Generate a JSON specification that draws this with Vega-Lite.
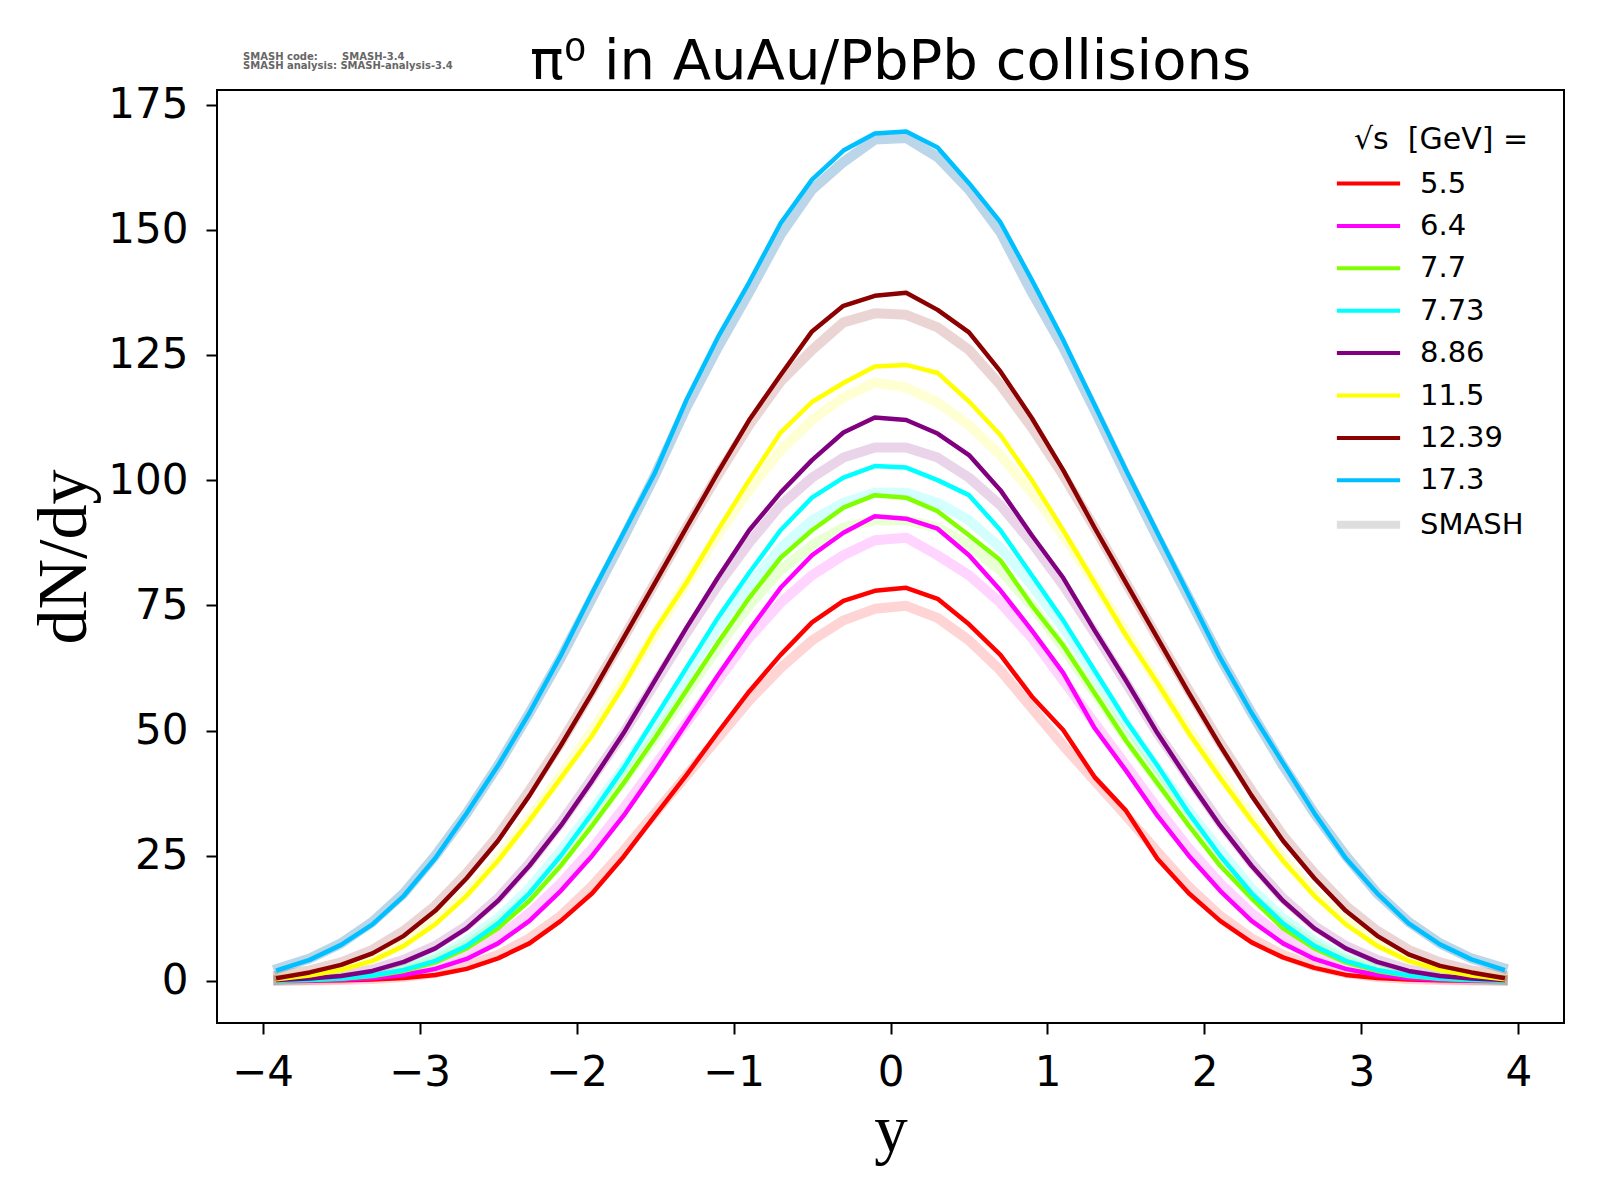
{
  "$schema": "https://vega.github.io/schema/vega-lite/v6.json",
  "width": 1347,
  "height": 933,
  "autosize": {"type": "none"},
  "padding": {"left": 217, "top": 90, "right": 36, "bottom": 177},
  "background": "white",
  "title": {
    "text": "π⁰ in AuAu/PbPb collisions",
    "font": "DejaVu Sans",
    "fontSize": 56,
    "fontWeight": "normal",
    "color": "black",
    "anchor": "middle",
    "frame": "group",
    "offset": -39
  },
  "data": {
    "values": [
      {"e":"5.5","r":-3.9,"d":0.03,"m":0.04},{"e":"5.5","r":-3.7,"d":0.07,"m":0.08},{"e":"5.5","r":-3.5,"d":0.15,"m":0.18},{"e":"5.5","r":-3.3,"d":0.3,"m":0.4},{"e":"5.5","r":-3.1,"d":0.6,"m":0.8},
      {"e":"5.5","r":-2.9,"d":1.2,"m":1.6},{"e":"5.5","r":-2.7,"d":2.4,"m":3},{"e":"5.5","r":-2.5,"d":4.5,"m":5.2},{"e":"5.5","r":-2.3,"d":7.5,"m":8.5},{"e":"5.5","r":-2.1,"d":12,"m":13},
      {"e":"5.5","r":-1.9,"d":17.5,"m":19},{"e":"5.5","r":-1.7,"d":24.8,"m":26},{"e":"5.5","r":-1.5,"d":33,"m":33.5},{"e":"5.5","r":-1.3,"d":41.1,"m":41},{"e":"5.5","r":-1.1,"d":49.6,"m":48.5},
      {"e":"5.5","r":-0.9,"d":57.8,"m":56},{"e":"5.5","r":-0.7,"d":65.1,"m":62.5},{"e":"5.5","r":-0.5,"d":71.6,"m":68},{"e":"5.5","r":-0.3,"d":75.9,"m":72},{"e":"5.5","r":-0.1,"d":77.9,"m":74.3},
      {"e":"5.5","r":0.1,"d":78.5,"m":74.9},{"e":"5.5","r":0.3,"d":76.3,"m":72.5},{"e":"5.5","r":0.5,"d":71.2,"m":68},{"e":"5.5","r":0.7,"d":65.1,"m":62},{"e":"5.5","r":0.9,"d":56.8,"m":54.5},
      {"e":"5.5","r":1.1,"d":50.1,"m":47},{"e":"5.5","r":1.3,"d":40.7,"m":40},{"e":"5.5","r":1.5,"d":34,"m":33},{"e":"5.5","r":1.7,"d":24.4,"m":25.8},{"e":"5.5","r":1.9,"d":17.5,"m":18.8},
      {"e":"5.5","r":2.1,"d":12,"m":13},{"e":"5.5","r":2.3,"d":7.7,"m":8.5},{"e":"5.5","r":2.5,"d":4.7,"m":5.2},{"e":"5.5","r":2.7,"d":2.6,"m":3},{"e":"5.5","r":2.9,"d":1.2,"m":1.6},
      {"e":"5.5","r":3.1,"d":0.6,"m":0.8},{"e":"5.5","r":3.3,"d":0.3,"m":0.4},{"e":"5.5","r":3.5,"d":0.15,"m":0.18},{"e":"5.5","r":3.7,"d":0.07,"m":0.08},{"e":"5.5","r":3.9,"d":0.03,"m":0.04},

      {"e":"6.4","r":-3.9,"d":0.05,"m":0.08},{"e":"6.4","r":-3.7,"d":0.1,"m":0.18},{"e":"6.4","r":-3.5,"d":0.25,"m":0.4},{"e":"6.4","r":-3.3,"d":0.55,"m":0.8},{"e":"6.4","r":-3.1,"d":1.2,"m":1.6},
      {"e":"6.4","r":-2.9,"d":2.4,"m":3},{"e":"6.4","r":-2.7,"d":4.4,"m":5.3},{"e":"6.4","r":-2.5,"d":7.5,"m":8.8},{"e":"6.4","r":-2.3,"d":12,"m":13.5},{"e":"6.4","r":-2.1,"d":18,"m":19.5},
      {"e":"6.4","r":-1.9,"d":25,"m":26.5},{"e":"6.4","r":-1.7,"d":33,"m":34.5},{"e":"6.4","r":-1.5,"d":42,"m":43},{"e":"6.4","r":-1.3,"d":51.5,"m":51.5},{"e":"6.4","r":-1.1,"d":61,"m":60},
      {"e":"6.4","r":-0.9,"d":70,"m":68.5},{"e":"6.4","r":-0.7,"d":78.5,"m":75.5},{"e":"6.4","r":-0.5,"d":85,"m":81},{"e":"6.4","r":-0.3,"d":89.5,"m":85},{"e":"6.4","r":-0.1,"d":92.8,"m":88},
      {"e":"6.4","r":0.1,"d":92.3,"m":88.5},{"e":"6.4","r":0.3,"d":90.3,"m":85},{"e":"6.4","r":0.5,"d":85,"m":81},{"e":"6.4","r":0.7,"d":78,"m":75.5},{"e":"6.4","r":0.9,"d":70,"m":68.5},
      {"e":"6.4","r":1.1,"d":61.5,"m":60},{"e":"6.4","r":1.3,"d":50.5,"m":51.5},{"e":"6.4","r":1.5,"d":42,"m":43},{"e":"6.4","r":1.7,"d":33,"m":34.5},{"e":"6.4","r":1.9,"d":25,"m":26.5},
      {"e":"6.4","r":2.1,"d":18,"m":19.5},{"e":"6.4","r":2.3,"d":12,"m":13.5},{"e":"6.4","r":2.5,"d":7.5,"m":8.8},{"e":"6.4","r":2.7,"d":4.4,"m":5.3},{"e":"6.4","r":2.9,"d":2.4,"m":3},
      {"e":"6.4","r":3.1,"d":1.2,"m":1.6},{"e":"6.4","r":3.3,"d":0.55,"m":0.8},{"e":"6.4","r":3.5,"d":0.25,"m":0.4},{"e":"6.4","r":3.7,"d":0.1,"m":0.18},{"e":"6.4","r":3.9,"d":0.05,"m":0.08},

      {"e":"7.7","r":-3.9,"d":0.08,"m":0.1},{"e":"7.7","r":-3.7,"d":0.2,"m":0.25},{"e":"7.7","r":-3.5,"d":0.45,"m":0.55},{"e":"7.7","r":-3.3,"d":1,"m":1.2},{"e":"7.7","r":-3.1,"d":2,"m":2.3},
      {"e":"7.7","r":-2.9,"d":3.7,"m":4.2},{"e":"7.7","r":-2.7,"d":6.5,"m":7.2},{"e":"7.7","r":-2.5,"d":10.5,"m":11.5},{"e":"7.7","r":-2.3,"d":16,"m":17},{"e":"7.7","r":-2.1,"d":23,"m":24},
      {"e":"7.7","r":-1.9,"d":31,"m":32},{"e":"7.7","r":-1.7,"d":39.5,"m":40},{"e":"7.7","r":-1.5,"d":48.5,"m":48.5},{"e":"7.7","r":-1.3,"d":58,"m":57.5},{"e":"7.7","r":-1.1,"d":67.5,"m":66.5},
      {"e":"7.7","r":-0.9,"d":76.5,"m":75},{"e":"7.7","r":-0.7,"d":84.5,"m":82},{"e":"7.7","r":-0.5,"d":90,"m":87},{"e":"7.7","r":-0.3,"d":94.5,"m":90.5},{"e":"7.7","r":-0.1,"d":97,"m":92},
      {"e":"7.7","r":0.1,"d":96.5,"m":92},{"e":"7.7","r":0.3,"d":93.8,"m":90.5},{"e":"7.7","r":0.5,"d":89,"m":87},{"e":"7.7","r":0.7,"d":84,"m":82},{"e":"7.7","r":0.9,"d":75,"m":75},
      {"e":"7.7","r":1.1,"d":67,"m":66.5},{"e":"7.7","r":1.3,"d":57.5,"m":57.5},{"e":"7.7","r":1.5,"d":48,"m":48.5},{"e":"7.7","r":1.7,"d":39.5,"m":40},{"e":"7.7","r":1.9,"d":31,"m":32},
      {"e":"7.7","r":2.1,"d":23,"m":24},{"e":"7.7","r":2.3,"d":16.5,"m":17},{"e":"7.7","r":2.5,"d":10.5,"m":11.5},{"e":"7.7","r":2.7,"d":6.5,"m":7.2},{"e":"7.7","r":2.9,"d":3.7,"m":4.2},
      {"e":"7.7","r":3.1,"d":2,"m":2.3},{"e":"7.7","r":3.3,"d":1,"m":1.2},{"e":"7.7","r":3.5,"d":0.45,"m":0.55},{"e":"7.7","r":3.7,"d":0.2,"m":0.25},{"e":"7.7","r":3.9,"d":0.08,"m":0.1},

      {"e":"7.73","r":-3.9,"d":0.09,"m":0.12},{"e":"7.73","r":-3.7,"d":0.22,"m":0.3},{"e":"7.73","r":-3.5,"d":0.5,"m":0.65},{"e":"7.73","r":-3.3,"d":1.1,"m":1.35},{"e":"7.73","r":-3.1,"d":2.2,"m":2.6},
      {"e":"7.73","r":-2.9,"d":4,"m":4.7},{"e":"7.73","r":-2.7,"d":7,"m":8},{"e":"7.73","r":-2.5,"d":11.5,"m":12.5},{"e":"7.73","r":-2.3,"d":17.5,"m":18.5},{"e":"7.73","r":-2.1,"d":25,"m":26},
      {"e":"7.73","r":-1.9,"d":33.5,"m":34},{"e":"7.73","r":-1.7,"d":42.5,"m":42.5},{"e":"7.73","r":-1.5,"d":52.5,"m":51.5},{"e":"7.73","r":-1.3,"d":62.5,"m":61},{"e":"7.73","r":-1.1,"d":72.5,"m":70.5},
      {"e":"7.73","r":-0.9,"d":81.5,"m":79},{"e":"7.73","r":-0.7,"d":90,"m":86.5},{"e":"7.73","r":-0.5,"d":96.5,"m":92},{"e":"7.73","r":-0.3,"d":100.5,"m":95.5},{"e":"7.73","r":-0.1,"d":102.8,"m":97.5},
      {"e":"7.73","r":0.1,"d":102.5,"m":97.5},{"e":"7.73","r":0.3,"d":100,"m":95.5},{"e":"7.73","r":0.5,"d":97,"m":92},{"e":"7.73","r":0.7,"d":90,"m":86.5},{"e":"7.73","r":0.9,"d":81,"m":79},
      {"e":"7.73","r":1.1,"d":72,"m":70.5},{"e":"7.73","r":1.3,"d":62,"m":61},{"e":"7.73","r":1.5,"d":52,"m":51.5},{"e":"7.73","r":1.7,"d":43,"m":42.5},{"e":"7.73","r":1.9,"d":33.5,"m":34},
      {"e":"7.73","r":2.1,"d":25,"m":26},{"e":"7.73","r":2.3,"d":17.5,"m":18.5},{"e":"7.73","r":2.5,"d":11.5,"m":12.5},{"e":"7.73","r":2.7,"d":7,"m":8},{"e":"7.73","r":2.9,"d":4,"m":4.7},
      {"e":"7.73","r":3.1,"d":2.2,"m":2.6},{"e":"7.73","r":3.3,"d":1.1,"m":1.35},{"e":"7.73","r":3.5,"d":0.5,"m":0.65},{"e":"7.73","r":3.7,"d":0.22,"m":0.3},{"e":"7.73","r":3.9,"d":0.09,"m":0.12},

      {"e":"8.86","r":-3.9,"d":0.2,"m":0.25},{"e":"8.86","r":-3.7,"d":0.5,"m":0.6},{"e":"8.86","r":-3.5,"d":1,"m":1.2},{"e":"8.86","r":-3.3,"d":2,"m":2.3},{"e":"8.86","r":-3.1,"d":3.8,"m":4.2},
      {"e":"8.86","r":-2.9,"d":6.5,"m":7},{"e":"8.86","r":-2.7,"d":10.5,"m":11},{"e":"8.86","r":-2.5,"d":16,"m":16.5},{"e":"8.86","r":-2.3,"d":23,"m":23.5},{"e":"8.86","r":-2.1,"d":31,"m":31.5},
      {"e":"8.86","r":-1.9,"d":40,"m":40.5},{"e":"8.86","r":-1.7,"d":49.5,"m":49.5},{"e":"8.86","r":-1.5,"d":60,"m":59.5},{"e":"8.86","r":-1.3,"d":70.5,"m":69.5},{"e":"8.86","r":-1.1,"d":80.5,"m":79},
      {"e":"8.86","r":-0.9,"d":90,"m":87.5},{"e":"8.86","r":-0.7,"d":97.5,"m":95},{"e":"8.86","r":-0.5,"d":104,"m":100.5},{"e":"8.86","r":-0.3,"d":109.5,"m":104.5},{"e":"8.86","r":-0.1,"d":112.5,"m":106.5},
      {"e":"8.86","r":0.1,"d":112,"m":106.5},{"e":"8.86","r":0.3,"d":109.3,"m":104.5},{"e":"8.86","r":0.5,"d":105,"m":100.5},{"e":"8.86","r":0.7,"d":98,"m":95},{"e":"8.86","r":0.9,"d":89,"m":87.5},
      {"e":"8.86","r":1.1,"d":80.5,"m":79},{"e":"8.86","r":1.3,"d":70,"m":69.5},{"e":"8.86","r":1.5,"d":60,"m":59.5},{"e":"8.86","r":1.7,"d":49.5,"m":49.5},{"e":"8.86","r":1.9,"d":40,"m":40.5},
      {"e":"8.86","r":2.1,"d":31,"m":31.5},{"e":"8.86","r":2.3,"d":23,"m":23.5},{"e":"8.86","r":2.5,"d":16,"m":16.5},{"e":"8.86","r":2.7,"d":10.5,"m":11},{"e":"8.86","r":2.9,"d":6.5,"m":7},
      {"e":"8.86","r":3.1,"d":3.8,"m":4.2},{"e":"8.86","r":3.3,"d":2,"m":2.3},{"e":"8.86","r":3.5,"d":1,"m":1.2},{"e":"8.86","r":3.7,"d":0.5,"m":0.6},{"e":"8.86","r":3.9,"d":0.2,"m":0.25},

      {"e":"11.5","r":-3.9,"d":0.4,"m":0.6},{"e":"11.5","r":-3.7,"d":1.1,"m":1.3},{"e":"11.5","r":-3.5,"d":2.2,"m":2.5},{"e":"11.5","r":-3.3,"d":4,"m":4.5},{"e":"11.5","r":-3.1,"d":7,"m":7.5},
      {"e":"11.5","r":-2.9,"d":11.3,"m":12},{"e":"11.5","r":-2.7,"d":17,"m":17.5},{"e":"11.5","r":-2.5,"d":24,"m":24.5},{"e":"11.5","r":-2.3,"d":32,"m":32.5},{"e":"11.5","r":-2.1,"d":40.5,"m":41},
      {"e":"11.5","r":-1.9,"d":49,"m":50},{"e":"11.5","r":-1.7,"d":59,"m":59.5},{"e":"11.5","r":-1.5,"d":70,"m":69.5},{"e":"11.5","r":-1.3,"d":79.5,"m":79.5},{"e":"11.5","r":-1.1,"d":90,"m":89},
      {"e":"11.5","r":-0.9,"d":100,"m":98},{"e":"11.5","r":-0.7,"d":109.5,"m":106},{"e":"11.5","r":-0.5,"d":115.6,"m":112},{"e":"11.5","r":-0.3,"d":119.4,"m":116.5},{"e":"11.5","r":-0.1,"d":122.7,"m":119.5},
      {"e":"11.5","r":0.1,"d":123,"m":118.5},{"e":"11.5","r":0.3,"d":121.4,"m":115.5},{"e":"11.5","r":0.5,"d":115.7,"m":111},{"e":"11.5","r":0.7,"d":109,"m":105},{"e":"11.5","r":0.9,"d":100,"m":97.5},
      {"e":"11.5","r":1.1,"d":90,"m":89},{"e":"11.5","r":1.3,"d":79.5,"m":79.5},{"e":"11.5","r":1.5,"d":69,"m":69.5},{"e":"11.5","r":1.7,"d":59.5,"m":59.5},{"e":"11.5","r":1.9,"d":49.5,"m":50},
      {"e":"11.5","r":2.1,"d":40.5,"m":41},{"e":"11.5","r":2.3,"d":32,"m":32.5},{"e":"11.5","r":2.5,"d":24,"m":24.5},{"e":"11.5","r":2.7,"d":17,"m":17.5},{"e":"11.5","r":2.9,"d":11.3,"m":12},
      {"e":"11.5","r":3.1,"d":7,"m":7.5},{"e":"11.5","r":3.3,"d":4,"m":4.5},{"e":"11.5","r":3.5,"d":2.2,"m":2.5},{"e":"11.5","r":3.7,"d":1.1,"m":1.3},{"e":"11.5","r":3.9,"d":0.4,"m":0.6},

      {"e":"12.39","r":-3.9,"d":0.6,"m":1.1},{"e":"12.39","r":-3.7,"d":1.7,"m":2.1},{"e":"12.39","r":-3.5,"d":3.2,"m":3.7},{"e":"12.39","r":-3.3,"d":5.5,"m":6.2},{"e":"12.39","r":-3.1,"d":9,"m":10},
      {"e":"12.39","r":-2.9,"d":14,"m":15},{"e":"12.39","r":-2.7,"d":20.5,"m":21.5},{"e":"12.39","r":-2.5,"d":28,"m":29},{"e":"12.39","r":-2.3,"d":37,"m":38},{"e":"12.39","r":-2.1,"d":47,"m":47.5},
      {"e":"12.39","r":-1.9,"d":57.5,"m":58},{"e":"12.39","r":-1.7,"d":68.5,"m":68.5},{"e":"12.39","r":-1.5,"d":79.5,"m":79.5},{"e":"12.39","r":-1.3,"d":90.5,"m":90.5},{"e":"12.39","r":-1.1,"d":101.5,"m":101},
      {"e":"12.39","r":-0.9,"d":112,"m":111},{"e":"12.39","r":-0.7,"d":121,"m":119.7},{"e":"12.39","r":-0.5,"d":129.7,"m":126},{"e":"12.39","r":-0.3,"d":134.8,"m":131.5},{"e":"12.39","r":-0.1,"d":136.8,"m":133.3},
      {"e":"12.39","r":0.1,"d":137.4,"m":133},{"e":"12.39","r":0.3,"d":134,"m":130.5},{"e":"12.39","r":0.5,"d":129.5,"m":126},{"e":"12.39","r":0.7,"d":121.7,"m":119},{"e":"12.39","r":0.9,"d":112.4,"m":110.5},
      {"e":"12.39","r":1.1,"d":102,"m":101},{"e":"12.39","r":1.3,"d":90.5,"m":90.5},{"e":"12.39","r":1.5,"d":79.5,"m":79.5},{"e":"12.39","r":1.7,"d":68.5,"m":68.5},{"e":"12.39","r":1.9,"d":57.5,"m":58},
      {"e":"12.39","r":2.1,"d":47,"m":47.5},{"e":"12.39","r":2.3,"d":37,"m":38},{"e":"12.39","r":2.5,"d":28,"m":29},{"e":"12.39","r":2.7,"d":20.5,"m":21.5},{"e":"12.39","r":2.9,"d":14,"m":15},
      {"e":"12.39","r":3.1,"d":9,"m":10},{"e":"12.39","r":3.3,"d":5.3,"m":6.2},{"e":"12.39","r":3.5,"d":3,"m":3.7},{"e":"12.39","r":3.7,"d":1.7,"m":2.1},{"e":"12.39","r":3.9,"d":0.6,"m":1.1},

      {"e":"17.3","r":-3.9,"d":2.2,"m":2.5},{"e":"17.3","r":-3.7,"d":4.2,"m":4.5},{"e":"17.3","r":-3.5,"d":7.2,"m":7.5},{"e":"17.3","r":-3.3,"d":11.3,"m":11.8},{"e":"17.3","r":-3.1,"d":17,"m":17.5},
      {"e":"17.3","r":-2.9,"d":24.5,"m":25},{"e":"17.3","r":-2.7,"d":33.5,"m":33.5},{"e":"17.3","r":-2.5,"d":43,"m":43},{"e":"17.3","r":-2.3,"d":53.5,"m":53.5},{"e":"17.3","r":-2.1,"d":65,"m":64.5},
      {"e":"17.3","r":-1.9,"d":77.5,"m":76.5},{"e":"17.3","r":-1.7,"d":89.5,"m":88.5},{"e":"17.3","r":-1.5,"d":101.5,"m":101},{"e":"17.3","r":-1.3,"d":116,"m":114.5},{"e":"17.3","r":-1.1,"d":128.5,"m":126.5},
      {"e":"17.3","r":-0.9,"d":139.5,"m":137.5},{"e":"17.3","r":-0.7,"d":151.3,"m":149},{"e":"17.3","r":-0.5,"d":160,"m":158},{"e":"17.3","r":-0.3,"d":165.8,"m":163.5},{"e":"17.3","r":-0.1,"d":169.2,"m":168},
      {"e":"17.3","r":0.1,"d":169.6,"m":168.3},{"e":"17.3","r":0.3,"d":166.4,"m":164.5},{"e":"17.3","r":0.5,"d":159.3,"m":158},{"e":"17.3","r":0.7,"d":151.5,"m":149.5},{"e":"17.3","r":0.9,"d":140,"m":137.5},
      {"e":"17.3","r":1.1,"d":128,"m":126.5},{"e":"17.3","r":1.3,"d":115,"m":114},{"e":"17.3","r":1.5,"d":102,"m":101},{"e":"17.3","r":1.7,"d":89.5,"m":88.5},{"e":"17.3","r":1.9,"d":77,"m":76.5},
      {"e":"17.3","r":2.1,"d":64.5,"m":64.5},{"e":"17.3","r":2.3,"d":53.5,"m":53.5},{"e":"17.3","r":2.5,"d":43.5,"m":43},{"e":"17.3","r":2.7,"d":33.5,"m":33.5},{"e":"17.3","r":2.9,"d":24.5,"m":25},
      {"e":"17.3","r":3.1,"d":17.5,"m":17.5},{"e":"17.3","r":3.3,"d":11.5,"m":11.8},{"e":"17.3","r":3.5,"d":7.3,"m":7.5},{"e":"17.3","r":3.7,"d":4.3,"m":4.5},{"e":"17.3","r":3.9,"d":2.3,"m":2.6}
    ]
  },
  "layer": [
    {
      "transform": [{"filter": "datum.e !== '17.3'"}],
      "mark": {"type": "line", "strokeWidth": 10, "opacity": 0.17, "strokeCap": "square", "strokeJoin": "round"},
      "encoding": {
        "x": {"field": "r", "type": "quantitative"},
        "y": {"field": "m", "type": "quantitative"},
        "color": {"field": "e", "type": "nominal"}
      }
    },
    {
      "transform": [{"filter": "datum.e === '17.3'"}],
      "mark": {"type": "line", "strokeWidth": 10, "opacity": 0.3, "color": "#1f77b4", "strokeCap": "square", "strokeJoin": "round"},
      "encoding": {
        "x": {"field": "r", "type": "quantitative"},
        "y": {"field": "m", "type": "quantitative"}
      }
    },
    {
      "mark": {"type": "line", "strokeWidth": 4.5, "strokeCap": "square", "strokeJoin": "round"},
      "encoding": {
        "x": {
          "field": "r",
          "type": "quantitative",
          "title": "y",
          "scale": {"domain": [-4.29, 4.29], "nice": false, "zero": false},
          "axis": {"values": [-4, -3, -2, -1, 0, 1, 2, 3, 4], "format": "d", "titlePadding": 5, "titleFontSize": 67}
        },
        "y": {
          "field": "d",
          "type": "quantitative",
          "title": "dN/dy",
          "scale": {"domain": [-8.4, 177.9], "nice": false, "zero": false},
          "axis": {"values": [0, 25, 50, 75, 100, 125, 150, 175], "titlePadding": 7}
        },
        "color": {
          "field": "e",
          "type": "nominal",
          "scale": {
            "domain": ["5.5", "6.4", "7.7", "7.73", "8.86", "11.5", "12.39", "17.3", "SMASH"],
            "range": ["#ff0000", "#ff00ff", "#7fff00", "#00ffff", "#800080", "#ffff00", "#8b0000", "#00bfff", "#dedede"]
          },
          "legend": {
            "title": "√s\u00a0\u00a0[GeV] =",
            "orient": "top-right",
            "offset": 35,
            "padding": 0,
            "titleFont": "DejaVu Sans",
            "titleFontSize": 30,
            "titleFontWeight": "normal",
            "titleColor": "black",
            "titleLimit": 400,
            "titlePadding": 14,
            "labelFont": "DejaVu Sans",
            "labelFontSize": 29,
            "labelColor": "black",
            "labelOffset": 37,
            "symbolType": "stroke",
            "symbolSize": 4000,
            "symbolStrokeWidth": 4,
            "rowPadding": 12.4,
            "encode": {
              "symbols": {
                "update": {
                  "strokeWidth": {"signal": "datum.value === 'SMASH' ? 8 : 4"},
                  "opacity": {"value": 1},
                  "strokeOpacity": {"value": 1}
                }
              }
            }
          }
        }
      }
    },
    {
      "data": {"values": [{"note": "SMASH code:\u00a0\u00a0\u00a0\u00a0\u00a0\u00a0 SMASH-3.4"}]},
      "mark": {"type": "text", "font": "DejaVu Sans", "fontSize": 10, "fontWeight": "bold", "color": "#666666", "align": "left", "baseline": "middle"},
      "encoding": {
        "x": {"datum": -4.124},
        "y": {"datum": 184.5},
        "text": {"field": "note"}
      }
    },
    {
      "data": {"values": [{"note": "SMASH analysis: SMASH-analysis-3.4"}]},
      "mark": {"type": "text", "font": "DejaVu Sans", "fontSize": 10, "fontWeight": "bold", "color": "#666666", "align": "left", "baseline": "middle"},
      "encoding": {
        "x": {"datum": -4.124},
        "y": {"datum": 182.7},
        "text": {"field": "note"}
      }
    }
  ],
  "config": {
    "view": {"stroke": "black", "strokeWidth": 2},
    "axis": {
      "grid": false,
      "domain": false,
      "ticks": true,
      "tickColor": "black",
      "tickWidth": 2,
      "tickSize": 11,
      "labelFont": "DejaVu Sans",
      "labelFontSize": 42,
      "labelColor": "black",
      "labelPadding": 18,
      "titleFont": "Liberation Serif",
      "titleFontSize": 70,
      "titleFontWeight": "normal",
      "titleColor": "black"
    },
    "axisY": {"labelPadding": 18}
  }
}
